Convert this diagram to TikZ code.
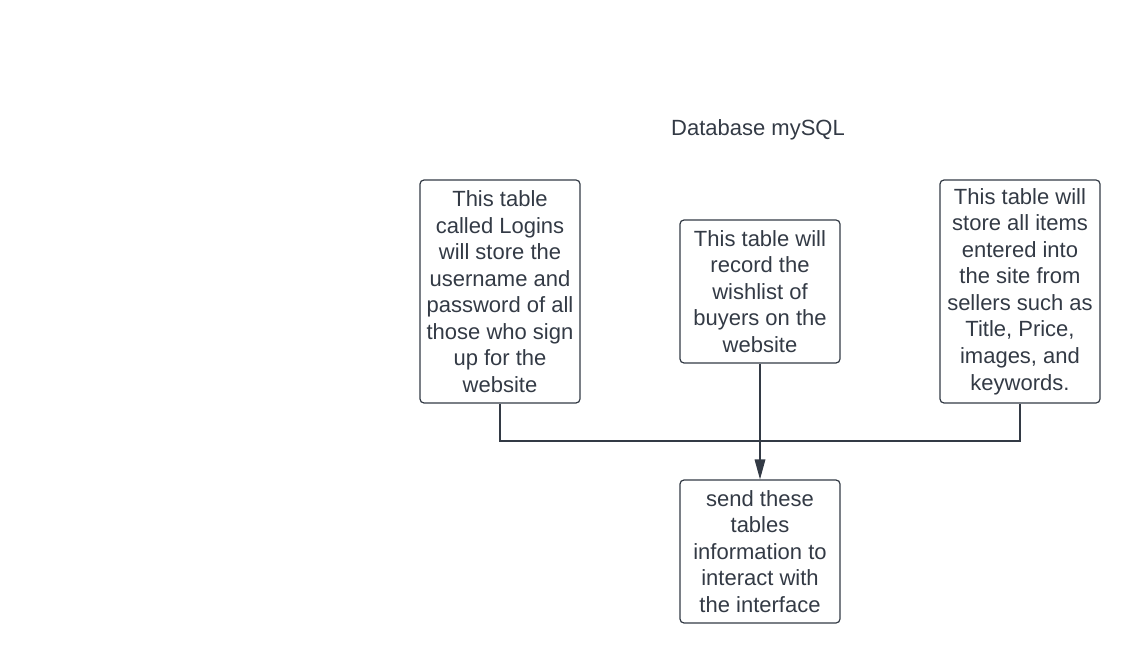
\documentclass[tikz,border=0pt]{standalone}
\usepackage{fontspec}
\setmainfont{Liberation Sans}
\usetikzlibrary{positioning,arrows.meta}
\definecolor{ink}{HTML}{333A45}

\begin{document}
\begin{tikzpicture}[x=0.75pt,y=-0.75pt,every node/.style = {text=ink, font=\fontsize{16.5pt}{19.9pt}\selectfont}, tablebox/.style={draw=ink, line width=0.9pt, align=center, shape=rectangle, rounded corners=3pt, minimum width=120pt, inner sep=0pt}, link/.style={draw=ink, line width=0.9pt}]
\useasboundingbox (0,0) rectangle (1140,663);
\node(title) at (758,130) {Database mySQL};
\node[tablebox, minimum height=167.25pt](logins) at (500,291.5) {This table\\called Logins\\will store the\\username and\\password of all\\those who sign\\up for the\\website};
\node[tablebox, minimum height=107.25pt](wish) at (760,291.5) {This table will\\record the\\wishlist of\\buyers on the\\website};
\node[tablebox, minimum height=167.25pt](items) at (1020,291.5) {This table will\\store all items\\entered into\\the site from\\sellers such as\\Title, Price,\\images, and\\keywords.};
\node[tablebox, minimum height=107.25pt](send) at (760,551.5) {send these\\tables\\information to\\interact with\\the interface};
\coordinate (join) at (760,441);
\draw[link] (logins.south) |- (join);
\draw[link] (items.south) |- (join);
\draw[link,-{Triangle[length=15pt,width=8pt]}] (wish.south) -- (send.north);
\end{tikzpicture}
\end{document}
